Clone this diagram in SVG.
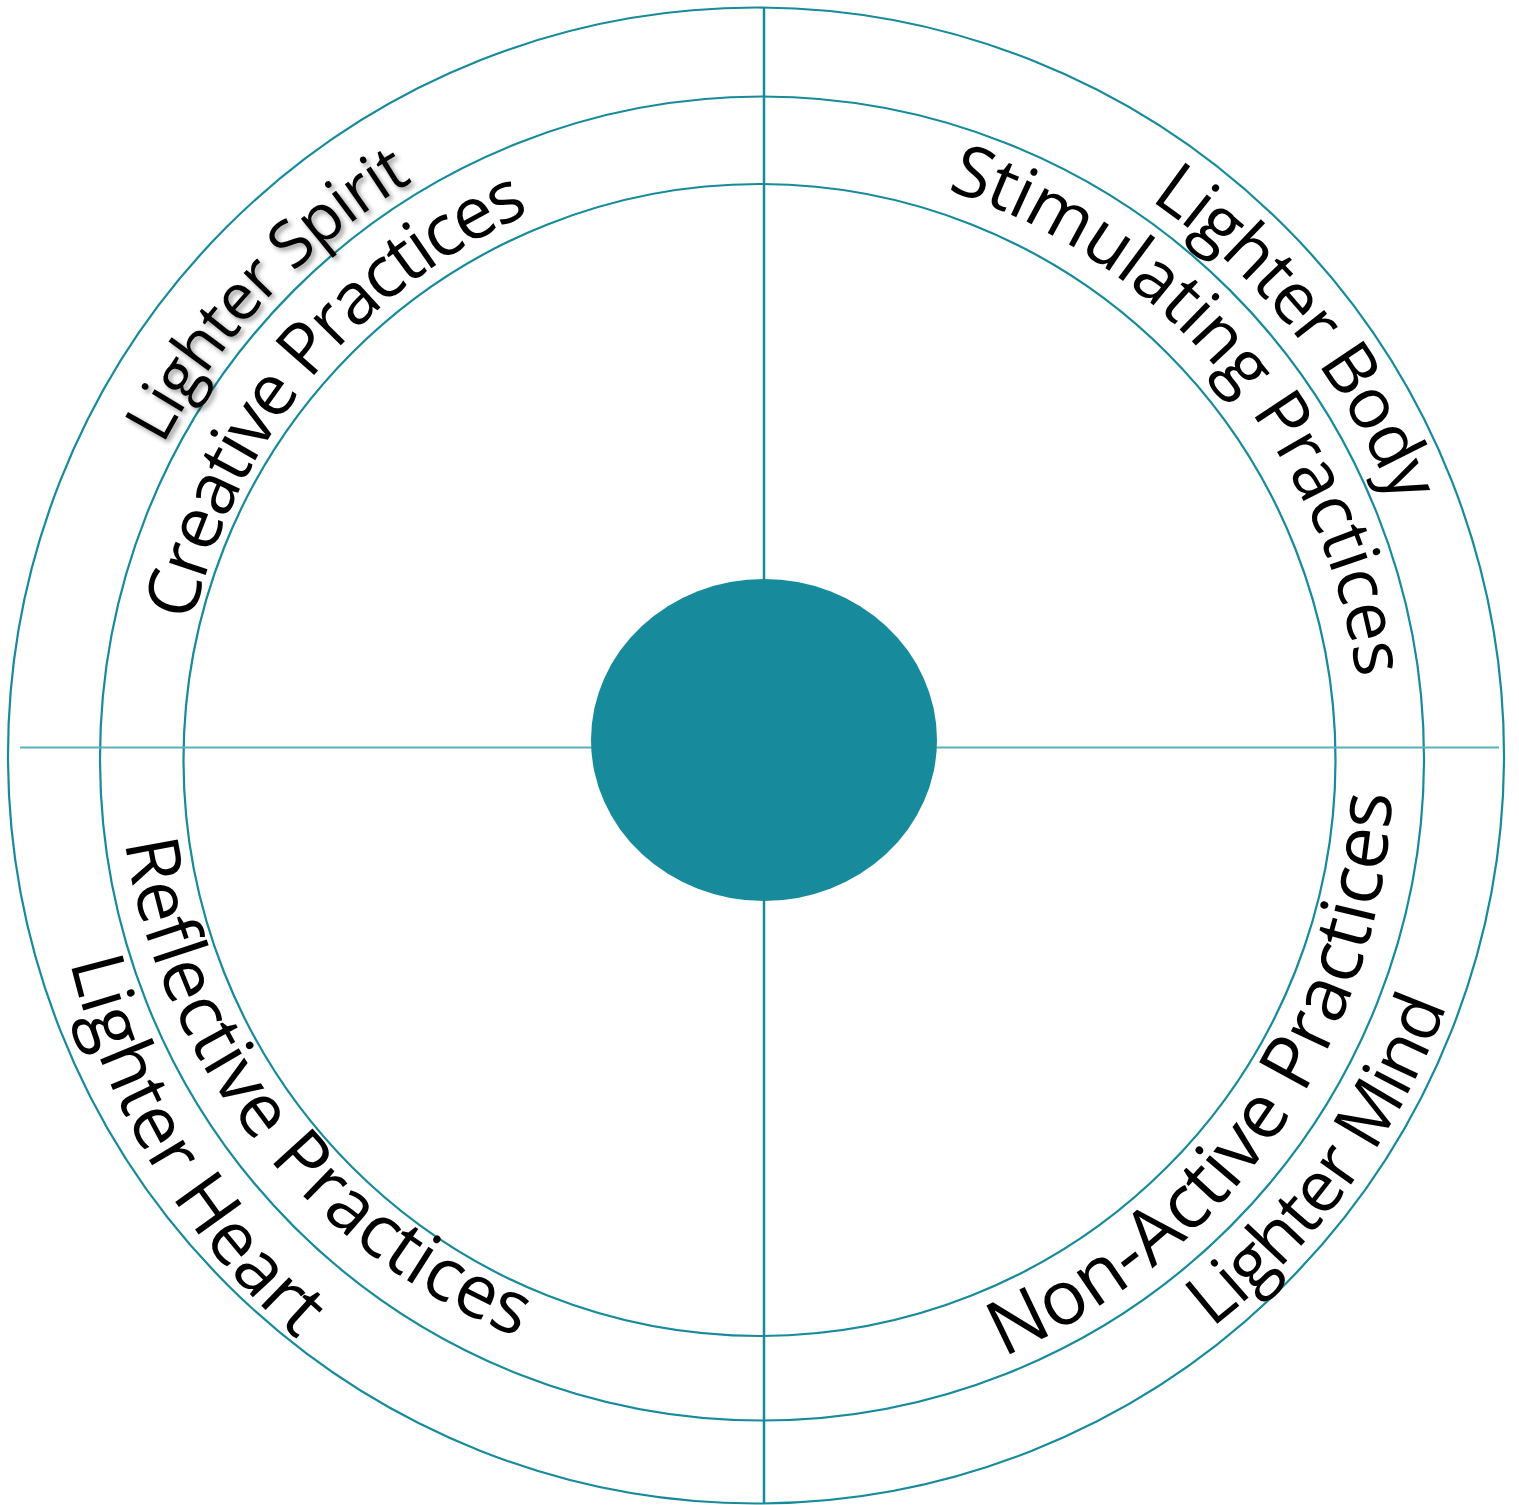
<svg xmlns="http://www.w3.org/2000/svg" xmlns:xlink="http://www.w3.org/1999/xlink" width="1519" height="1505" viewBox="0 0 1519 1505">
<style>
.ring{fill:none;stroke:#178A9B;stroke-width:2.2}
.lbl{font-family:"Open Sans","Noto Sans","Liberation Sans",sans-serif;fill:#000}
</style>
<defs>
<filter id="shadow" x="-10%" y="-10%" width="130%" height="130%">
<feDropShadow dx="3" dy="3" stdDeviation="2.5" flood-color="#000" flood-opacity="0.4"/>
</filter>
<path id="p1" d="M 163 445 A 673 673 0 0 1 415 180"/>
<path id="p2" d="M 193 622 A 585 585 0 0 1 533 212"/>
<path id="p3" d="M 1150 200 A 680 680 0 0 1 1396 507"/>
<path id="p4" d="M 947 190 A 599 599 0 0 1 1357 680"/>
<path id="p5" d="M 1003 1357 A 640 640 0 0 0 1392 790"/>
<path id="p6" d="M 1212 1328 A 725 725 0 0 0 1447 1005"/>
<path id="p7" d="M 125 842 A 633 633 0 0 0 520 1338"/>
<path id="p8" d="M 70 962 A 720 720 0 0 0 298 1340"/>
</defs>
<rect width="1519" height="1505" fill="#fff"/>
<g id="ring-outer"><circle class="ring" cx="756" cy="755.5" r="748"/></g>
<g id="ring-middle"><circle class="ring" cx="762" cy="758.5" r="662"/></g>
<g id="ring-inner"><circle class="ring" cx="759.5" cy="760" r="576"/></g>
<g id="connectors">
<line x1="20" y1="747.5" x2="1499" y2="747.5" stroke="#5DB0BC" stroke-width="2"/>
<line x1="764" y1="8" x2="764" y2="1503" stroke="#178A9B" stroke-width="2.5"/>
</g>
<g id="center"><ellipse cx="764" cy="740" rx="173" ry="161" fill="#178A9B"/></g>
<g id="label-lighter-spirit"><text class="lbl" font-size="65" filter="url(#shadow)"><textPath xlink:href="#p1" href="#p1" textLength="368" lengthAdjust="spacing">Lighter Spirit</textPath></text></g>
<g id="label-creative"><text class="lbl" font-size="72"><textPath xlink:href="#p2" href="#p2" textLength="550" lengthAdjust="spacing">Creative Practices</textPath></text></g>
<g id="label-lighter-body"><text class="lbl" font-size="71"><textPath xlink:href="#p3" href="#p3" textLength="397" lengthAdjust="spacing">Lighter Body</textPath></text></g>
<g id="label-stimulating"><text class="lbl" font-size="71"><textPath xlink:href="#p4" href="#p4" textLength="672" lengthAdjust="spacing">Stimulating Practices</textPath></text></g>
<g id="label-non-active"><text class="lbl" font-size="76"><textPath xlink:href="#p5" href="#p5" textLength="722" lengthAdjust="spacing">Non-Active Practices</textPath></text></g>
<g id="label-lighter-mind"><text class="lbl" font-size="71"><textPath xlink:href="#p6" href="#p6" textLength="404" lengthAdjust="spacing">Lighter Mind</textPath></text></g>
<g id="label-reflective"><text class="lbl" font-size="74"><textPath xlink:href="#p7" href="#p7" textLength="662" lengthAdjust="spacing">Reflective Practices</textPath></text></g>
<g id="label-lighter-heart"><text class="lbl" font-size="74"><textPath xlink:href="#p8" href="#p8" textLength="448" lengthAdjust="spacing">Lighter Heart</textPath></text></g>
</svg>
